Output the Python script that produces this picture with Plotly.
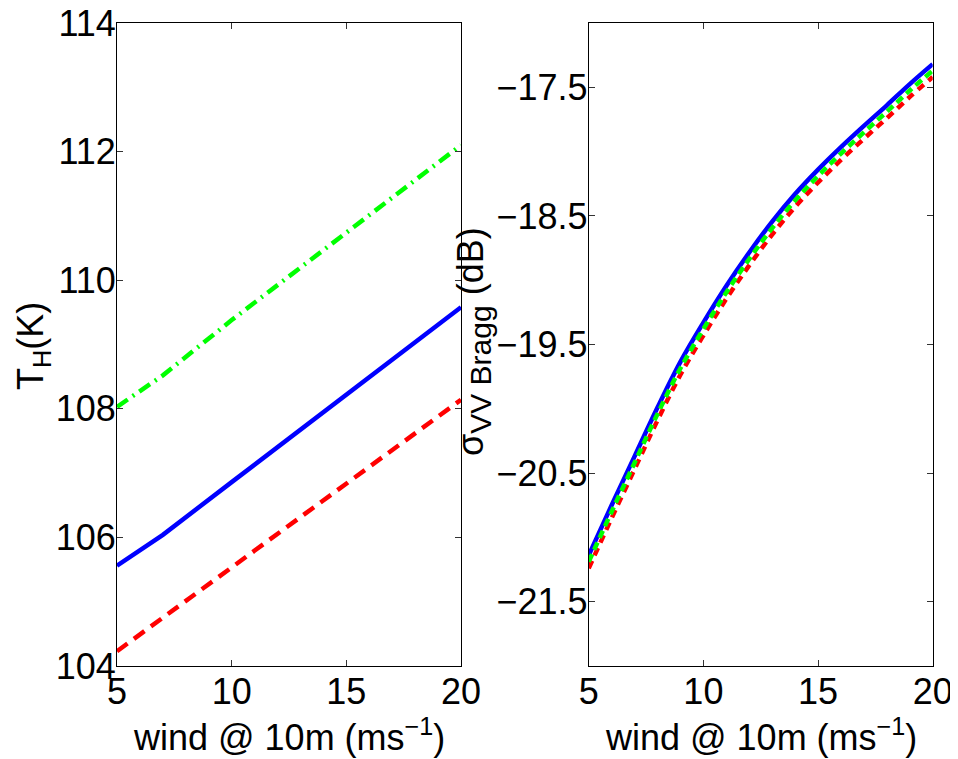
import plotly.graph_objects as go

# ---------------- data ----------------
wind_left = [5, 7, 10, 15, 20]
th_blue = [105.56, 106.04, 106.86, 108.22, 109.58]
th_red = [104.23, 104.75, 105.53, 106.83, 108.14]
th_green = [108.03, 108.52, 109.38, 110.75, 112.10]

wind_right = [5, 6, 7, 8, 9, 10, 11, 12, 13, 14, 15, 16, 17, 18, 19, 20]
sig_blue = [-21.14, -20.75, -20.37, -19.99, -19.635, -19.33, -19.045, -18.785,
            -18.545, -18.33, -18.14, -17.965, -17.80, -17.64, -17.475, -17.32]
sig_green = [-21.19, -20.80, -20.42, -20.04, -19.685, -19.38, -19.095, -18.835,
             -18.595, -18.38, -18.19, -18.015, -17.85, -17.69, -17.525, -17.37]
sig_red = [-21.24, -20.85, -20.47, -20.09, -19.735, -19.43, -19.145, -18.885,
           -18.645, -18.43, -18.24, -18.065, -17.90, -17.74, -17.575, -17.42]

x_ticks = [5, 10, 15, 20]
left_yticks = [104, 106, 108, 110, 112, 114]
right_yticks = [-21.5, -20.5, -19.5, -18.5, -17.5]
right_yticktext = ["\u221221.5", "\u221220.5", "\u221219.5", "\u221218.5", "\u221217.5"]

W, H = 958, 759
OFF = 8  # page body margin
FONT = "Liberation Sans, Arial, sans-serif"
FS = 36


def px_x(p):
    return (p - OFF) / W


def px_y(p):
    return 1 - (p - OFF) / H


fig = go.Figure()

LW = 4.5
fig.add_trace(go.Scatter(x=wind_left, y=th_blue, mode="lines",
                         line=dict(color="#0000ff", width=LW), xaxis="x", yaxis="y"))
fig.add_trace(go.Scatter(x=wind_left, y=th_red, mode="lines",
                         line=dict(color="#ff0000", width=LW, dash="13px,8px"), xaxis="x", yaxis="y"))
fig.add_trace(go.Scatter(x=wind_left, y=th_green, mode="lines",
                         line=dict(color="#00ff00", width=LW, dash="13px,6px,2px,6px"), xaxis="x", yaxis="y"))

fig.add_trace(go.Scatter(x=wind_right, y=sig_blue, mode="lines", line_shape="spline",
                         line=dict(color="#0000ff", width=LW), xaxis="x2", yaxis="y2"))
fig.add_trace(go.Scatter(x=wind_right, y=sig_red, mode="lines", line_shape="spline",
                         line=dict(color="#ff0000", width=LW, dash="8px,6px"), xaxis="x2", yaxis="y2"))
fig.add_trace(go.Scatter(x=wind_right, y=sig_green, mode="lines", line_shape="spline",
                         line=dict(color="#00ff00", width=LW, dash="8px,5px"), xaxis="x2", yaxis="y2"))

ydom = [px_y(666), px_y(23)]
axis_common = dict(showline=True, linecolor="black", linewidth=1, mirror="allticks",
                   ticks="inside", ticklen=6, tickcolor="#333333", showgrid=False,
                   zeroline=False, automargin=False, ticklabeloverflow="allow",
                   tickfont=dict(family=FONT, size=FS, color="black"))

fig.update_layout(
    template="none",
    width=W, height=H,
    margin=dict(l=0, r=0, t=0, b=0, pad=0),
    paper_bgcolor="white", plot_bgcolor="white",
    showlegend=False,
    xaxis=dict(domain=[px_x(117), px_x(461)], range=[5, 20], tickvals=x_ticks,
               anchor="y", ticklabelstandoff=-6, **axis_common),
    yaxis=dict(domain=ydom, range=[104, 114], tickvals=left_yticks,
               anchor="x", ticklabelstandoff=-7, **axis_common),
    xaxis2=dict(domain=[px_x(588.7), px_x(932.7)], range=[5, 20], tickvals=x_ticks,
                anchor="y2", ticklabelstandoff=-6, **axis_common),
    yaxis2=dict(domain=ydom, range=[-22, -17], tickvals=right_yticks,
                ticktext=right_yticktext,
                anchor="x2", ticklabelstandoff=-7, **axis_common),
)

title_font = dict(family=FONT, size=FS, color="black")
fig.add_annotation(text="wind @ 10m (ms<sup>\u22121</sup>)", xref="paper", yref="paper",
                   x=px_x(289), y=px_y(760), xanchor="center", yanchor="bottom",
                   showarrow=False, font=title_font)
fig.add_annotation(text="wind @ 10m (ms<sup>\u22121</sup>)", xref="paper", yref="paper",
                   x=px_x(760.7), y=px_y(760), xanchor="center", yanchor="bottom",
                   showarrow=False, font=title_font)
fig.add_annotation(text="T<sub>H</sub>(K)", xref="paper", yref="paper",
                   x=px_x(33), y=px_y(346), xanchor="center", yanchor="middle",
                   textangle=-90, showarrow=False, font=title_font)
fig.add_annotation(text="\u03c3<sub><span style='font-size:30px'>VV Bragg</span></sub> (dB)",
                   xref="paper", yref="paper",
                   x=px_x(473), y=px_y(342), xanchor="center", yanchor="middle",
                   textangle=-90, showarrow=False, font=title_font)

fig.write_html("out.html")
